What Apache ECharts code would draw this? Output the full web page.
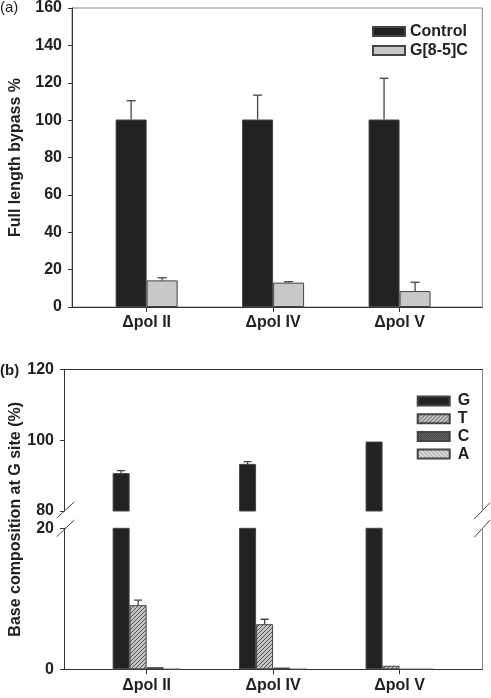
<!DOCTYPE html>
<html>
<head>
<meta charset="utf-8">
<script src="https://cdn.jsdelivr.net/npm/echarts@6/dist/echarts.min.js"></script>
<style>
html,body{margin:0;padding:0;background:#fff;}
#chart{width:491px;height:698px;}
</style>
</head>
<body>
<div id="chart"></div>
<script>
// ---------- data ----------
var categories = ['\u0394pol II', '\u0394pol IV', '\u0394pol V'];
// panel (a)
var controlVals = [100, 100, 100];
var controlErr  = [10, 13, 22];
var g85cVals    = [14.2, 13, 8.5];
var g85cErr     = [1.4, 0.5, 4.7];
// panel (b)
var gVals = [90.7, 93.3, 99.6];
var gErr  = [0.7, 0.65, 0];
var tVals = [9.1, 6.4, 0.5];
var tErr  = [0.7, 0.7, 0];
var cVals = [0.3, 0.25, 0];
var aVals = [0, 0, 0];
var aTicks = {min: 0, max: 160, interval: 20};
var bUpperTicks = {min: 80, max: 120, interval: 20};
var bLowerTicks = {min: 0, max: 20, interval: 20};

// ---------- styles ----------
var FONT = "'Liberation Sans', Arial, sans-serif";
function hatch(bg, fg, dir, n) {
  var c = document.createElement('canvas');
  c.width = n; c.height = n;
  var x = c.getContext('2d');
  x.fillStyle = bg; x.fillRect(0, 0, n, n);
  x.strokeStyle = fg; x.lineWidth = 1;
  x.beginPath();
  if (dir === '/') {
    x.moveTo(0, n); x.lineTo(n, 0);
    x.moveTo(-1, 1); x.lineTo(1, -1);
    x.moveTo(n - 1, n + 1); x.lineTo(n + 1, n - 1);
  } else {
    x.moveTo(0, 0); x.lineTo(n, n);
    x.moveTo(-1, n - 1); x.lineTo(1, n + 1);
    x.moveTo(n - 1, -1); x.lineTo(n + 1, 1);
  }
  x.stroke();
  return {image: c, repeat: 'repeat'};
}
function checker(a, b) {
  var c = document.createElement('canvas');
  c.width = 2; c.height = 2;
  var x = c.getContext('2d');
  x.fillStyle = a; x.fillRect(0, 0, 2, 2);
  x.fillStyle = b; x.fillRect(0, 0, 1, 1); x.fillRect(1, 1, 1, 1);
  return {image: c, repeat: 'repeat'};
}
var tPattern = hatch('#c4c4c4', '#555', '/', 4);
var cPattern = checker('#333', '#777');
var aPattern = hatch('#e2e2e2', '#8a8a8a', '\\', 4);

function errRender(offset, capW) {
  return function (params, api) {
    var ci = api.value(0), v = api.value(1), e = api.value(2);
    if (!e) return null;
    var p0 = api.coord([ci, v]);
    var p1 = api.coord([ci, v + e]);
    var x = p0[0] + offset;
    var st = {stroke: '#444', lineWidth: 1.3};
    return {type: 'group', children: [
      {type: 'line', shape: {x1: x, y1: p0[1], x2: x, y2: p1[1]}, style: st},
      {type: 'line', shape: {x1: x - capW / 2, y1: p1[1], x2: x + capW / 2, y2: p1[1]}, style: st}
    ]};
  };
}
function errData(vals, errs) {
  return vals.map(function (v, i) { return [i, v, errs[i]]; });
}

var labelStyle = {fontSize: 16, fontWeight: 'bold', color: '#222', fontFamily: FONT};
var darkLine = {show: true, lineStyle: {color: '#333', width: 1}};
var grayLine = {show: true, lineStyle: {color: '#888', width: 1}};

// geometry (pixel y positions)
var FL = 64, FR = 8.7;            // frame left / right margin
var BL = 83.4, BW = 379.4;        // bars grid left / width
var aTop = 7, aBase = 307;        // panel a top / baseline
var bUTop = 369.3, bUH = 141.7;   // panel b upper
var bLTop = 528.3, bLH = 141;     // panel b lower

function hiddenValueX(grid, pos, line) {
  return {type: 'value', gridIndex: grid, min: 0, max: 1, position: pos,
    axisLine: line || {show: false}, axisTick: {show: false}, axisLabel: {show: false}, splitLine: {show: false}};
}
function hiddenY(grid, t) {
  return {type: 'value', gridIndex: grid, min: t.min, max: t.max, interval: t.interval, show: false, splitLine: {show: false}};
}
function labelY(grid, t) {
  return {type: 'value', gridIndex: grid, min: t.min, max: t.max, interval: t.interval, position: 'left',
    axisLine: darkLine, axisTick: {show: true, inside: false, length: 4, lineStyle: {color: '#333'}},
    axisLabel: Object.assign({margin: 10}, labelStyle), splitLine: {show: false}};
}
function rightLine(grid, t) {
  return {type: 'value', gridIndex: grid, min: t.min, max: t.max, interval: t.interval, position: 'right',
    axisLine: grayLine, axisTick: {show: false}, axisLabel: {show: false}, splitLine: {show: false}};
}
function catX(grid, showLabels) {
  return {type: 'category', gridIndex: grid, data: categories, position: 'bottom',
    axisLine: {show: false},
    axisTick: {show: showLabels, alignWithLabel: true, length: 5, lineStyle: {color: '#333'}},
    axisLabel: Object.assign({show: showLabels, margin: 8}, labelStyle)};
}

var option = {
  animation: false,
  backgroundColor: '#fff',
  textStyle: {fontFamily: FONT},
  title: [
    {text: '(a)', left: 0, top: 0, padding: 0, textStyle: {fontSize: 15, fontWeight: 'normal', color: '#222', fontFamily: FONT}},
    {text: '(b)', left: 0, top: 363, padding: 0, textStyle: {fontSize: 15, fontWeight: 'bold', color: '#222', fontFamily: FONT}}
  ],
  legend: [
    {orient: 'vertical', left: 372, top: 23.5, padding: 0, itemWidth: 32, itemHeight: 9, itemGap: 3, icon: 'rect',
      selectedMode: false, data: ['Control', 'G[8-5]C'],
      textStyle: Object.assign({lineHeight: 16}, labelStyle)},
    {orient: 'vertical', left: 416.7, top: 393, padding: 0, itemWidth: 32, itemHeight: 9, itemGap: 1.7, icon: 'rect',
      selectedMode: false, data: ['G', 'T', 'C', 'A'],
      textStyle: Object.assign({lineHeight: 16, padding: [0, 0, 0, 3]}, labelStyle)}
  ],
  grid: [
    {left: FL, right: FR, top: aTop, height: aBase - aTop, show: true, borderColor: '#888', borderWidth: 1},
    {left: BL, width: BW, top: aTop, height: aBase - aTop},
    {left: FL, right: FR, top: bUTop, height: bUH},
    {left: FL, right: FR, top: bLTop, height: bLH},
    {left: BL, width: BW, top: bUTop, height: bUH},
    {left: BL, width: BW, top: bLTop, height: bLH},
    {left: FL, right: FR, top: bUTop, height: bLTop + bLH - bUTop}
  ],
  xAxis: [
    hiddenValueX(0, 'bottom', darkLine),
    catX(1, true),
    hiddenValueX(2, 'top', darkLine),
    hiddenValueX(3, 'bottom', darkLine),
    catX(4, false),
    catX(5, true),
    hiddenValueX(6, 'bottom')
  ],
  yAxis: [
    Object.assign(labelY(0, aTicks), {name: 'Full length bypass %', nameLocation: 'middle', nameGap: 48,
      nameTextStyle: labelStyle}),
    hiddenY(1, aTicks),
    labelY(2, bUpperTicks),
    rightLine(2, bUpperTicks),
    labelY(3, bLowerTicks),
    rightLine(3, bLowerTicks),
    hiddenY(4, bUpperTicks),
    hiddenY(5, bLowerTicks),
    {type: 'value', gridIndex: 6, min: 0, max: 1, position: 'left', axisLine: {show: false}, axisTick: {show: false},
      axisLabel: {show: false}, splitLine: {show: false},
      name: 'Base composition at G site (%)', nameLocation: 'middle', nameGap: 49, nameTextStyle: labelStyle}
  ],
  graphic: [
    {type: 'line', shape: {x1: 56.7, y1: 518, x2: 74.3, y2: 502}, style: {stroke: '#444', lineWidth: 1}},
    {type: 'line', shape: {x1: 56.7, y1: 536.7, x2: 74.3, y2: 520}, style: {stroke: '#444', lineWidth: 1}},
    {type: 'line', shape: {x1: 474.3, y1: 519, x2: 490, y2: 502.7}, style: {stroke: '#444', lineWidth: 1}},
    {type: 'line', shape: {x1: 474.3, y1: 537.3, x2: 490, y2: 520}, style: {stroke: '#444', lineWidth: 1}}
  ],
  series: []
};

function bar(name, data, xi, yi, color, width) {
  return {type: 'bar', name: name, data: data, xAxisIndex: xi, yAxisIndex: yi, barWidth: width, barGap: '0%',
    clip: true, itemStyle: {color: color, borderColor: '#444', borderWidth: 1}};
}
function err(data, xi, yi, offset, capW) {
  return {type: 'custom', data: data, xAxisIndex: xi, yAxisIndex: yi, z: 5, clip: true, silent: true,
    renderItem: errRender(offset, capW)};
}

option.series.push(
  bar('Control', controlVals, 1, 1, '#222', 31),
  bar('G[8-5]C', g85cVals, 1, 1, '#c8c8c8', 31),
  err(errData(controlVals, controlErr), 1, 1, -15.5, 9),
  err(errData(g85cVals, g85cErr), 1, 1, 15.5, 9)
);
[[4, 6], [5, 7]].forEach(function (ax) {
  option.series.push(
    bar('G', gVals, ax[0], ax[1], '#222', 17),
    bar('T', tVals, ax[0], ax[1], tPattern, 17),
    bar('C', cVals, ax[0], ax[1], cPattern, 17),
    bar('A', aVals, ax[0], ax[1], aPattern, 17)
  );
});
option.series.push(
  err(errData(gVals, gErr), 4, 6, -25.5, 8),
  err(errData(tVals, tErr), 5, 7, -8.5, 8)
);

var chart = echarts.init(document.getElementById('chart'), null, {renderer: 'canvas'});
chart.setOption(option);
</script>
</body>
</html>
